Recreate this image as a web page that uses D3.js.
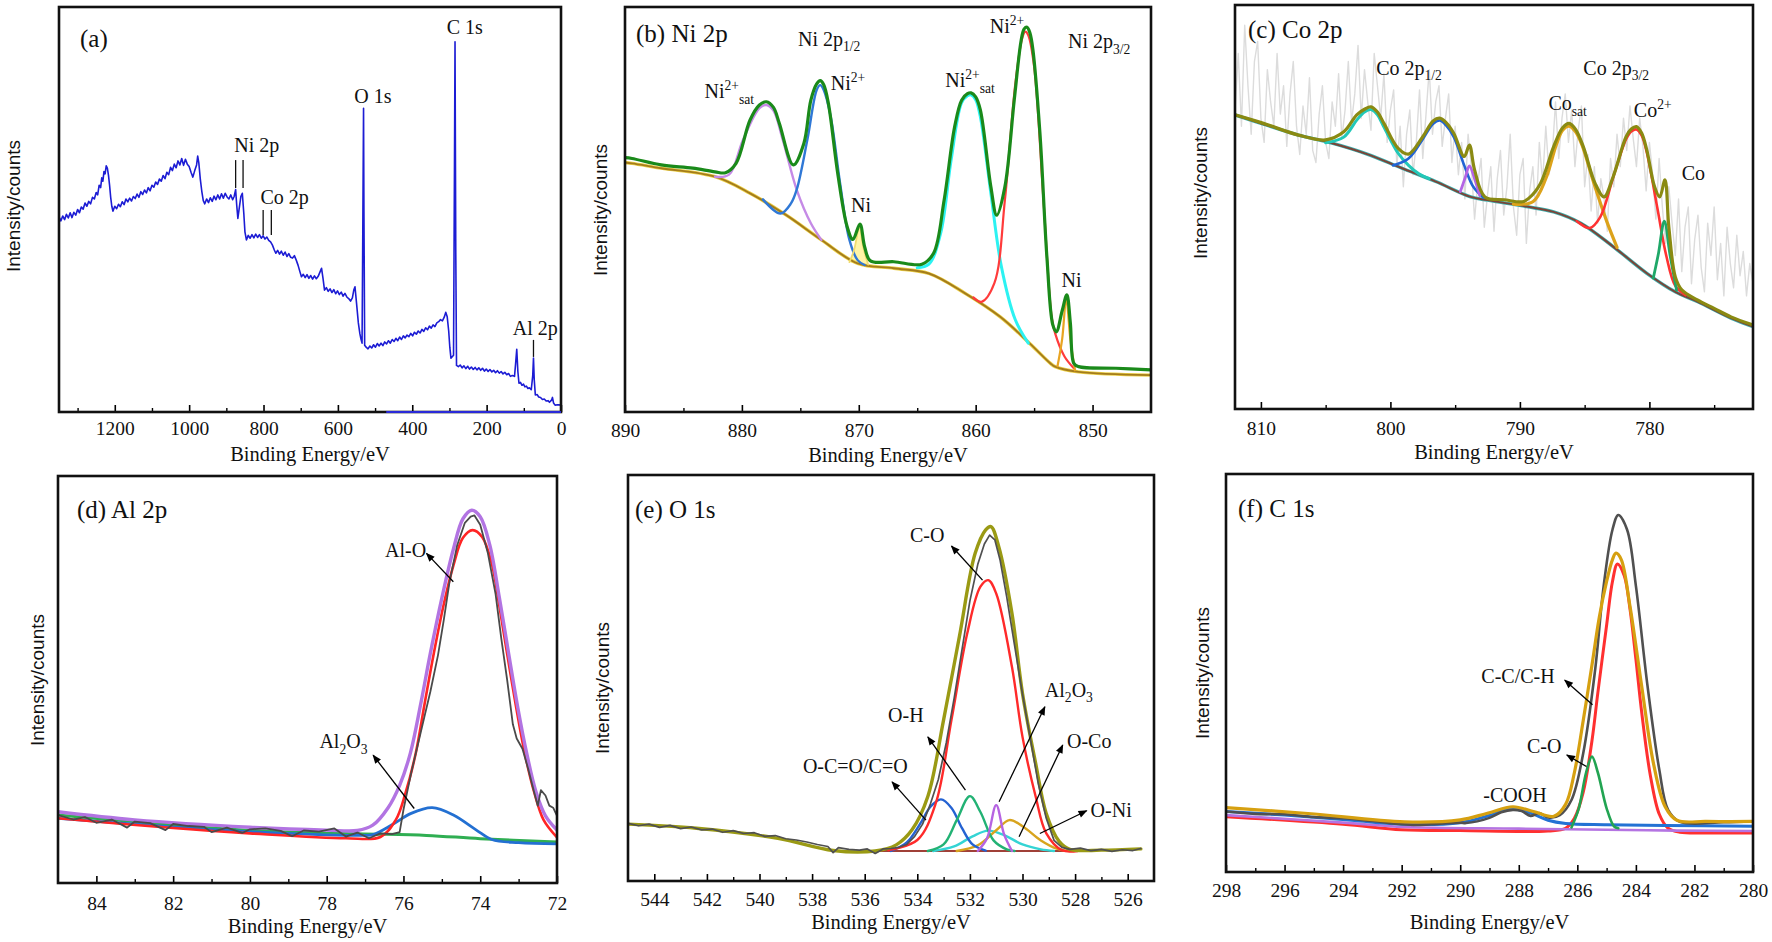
<!DOCTYPE html>
<html><head><meta charset="utf-8">
<script src="https://cdn.jsdelivr.net/npm/d3@7"></script>
<style>body{margin:0;background:#fff}svg{display:block}</style>
</head><body>
<script>
// ================= DATA (binding energy eV, intensity a.u. 0-100 of frame) =================
// (a) survey
const surveyA = [[1350,48.2],[1345,47.2],[1340,48.4],[1335,47.5],[1330,48.8],[1325,47.9],[1320,49.2],[1315,48.0],[1310,49.3],[1305,48.6],[1300,50.0],[1295,49.2],[1290,50.6],[1285,50.1],[1280,51.6],[1275,50.8],[1270,52.0],[1265,51.4],[1260,53.0],[1255,52.6],[1250,54.2],[1246,53.6],[1242,56.0],[1238,55.4],[1235,57.8],[1232,57.0],[1229,59.4],[1226,58.8],[1223,60.8],[1220,60.2],[1217,58.5],[1214,56.0],[1211,53.0],[1208,50.8],[1205,49.6],[1200,50.8],[1195,50.2],[1190,51.3],[1185,50.7],[1180,51.9],[1175,51.2],[1170,52.6],[1165,51.9],[1160,52.8],[1155,52.1],[1150,53.2],[1145,52.7],[1140,53.8],[1135,53.0],[1130,54.4],[1125,53.7],[1120,54.8],[1115,54.1],[1110,55.4],[1105,54.6],[1100,56.0],[1095,55.5],[1090,56.8],[1085,56.2],[1080,57.5],[1075,57.0],[1070,58.4],[1065,57.6],[1060,59.2],[1055,58.6],[1050,60.4],[1045,59.6],[1040,61.2],[1035,60.3],[1030,62.0],[1025,61.0],[1020,62.6],[1015,60.9],[1010,62.4],[1005,61.2],[1000,60.6],[995,59.2],[990,58.0],[985,59.6],[980,61.0],[977,63.2],[974,61.5],[970,57.5],[966,54.5],[962,52.2],[958,51.4],[953,52.6],[948,51.7],[943,52.9],[938,52.0],[933,53.3],[928,52.4],[923,53.6],[918,52.6],[913,53.9],[908,52.8],[903,54.0],[898,53.1],[893,52.6],[888,53.6],[883,52.4],[879,53.2],[875,54.9],[872,51.0],[869,47.8],[865,50.5],[861,53.2],[857,54.0],[853,49.0],[850,44.5],[846,42.5],[841,43.6],[836,42.9],[831,43.8],[826,43.0],[821,43.9],[816,43.1],[811,43.8],[806,42.9],[801,43.5],[796,42.7],[791,43.2],[786,42.4],[781,42.0],[776,41.2],[771,40.0],[767,39.2],[762,39.9],[757,39.0],[752,39.7],[747,38.7],[742,39.5],[737,38.4],[732,39.1],[727,38.2],[722,38.0],[717,38.6],[712,37.5],[707,36.2],[702,34.6],[698,33.4],[693,34.0],[688,33.2],[683,33.9],[678,33.0],[673,33.7],[668,32.8],[663,33.6],[658,32.9],[653,33.5],[648,34.6],[644,35.5],[640,33.0],[636,30.1],[631,30.7],[626,29.8],[621,30.4],[616,29.5],[611,30.2],[606,29.2],[601,29.9],[596,29.0],[591,29.6],[586,28.6],[581,29.3],[576,28.4],[571,28.0],[566,27.4],[561,28.2],[557,30.2],[554,30.9],[550,27.0],[545,22.0],[541,19.4],[538,18.0],[535,17.0],[533,45.0],[531,75.0],[530,50.0],[528,16.5],[524,16.0],[519,15.6],[514,16.3],[509,15.8],[504,16.6],[499,16.0],[494,16.9],[489,16.3],[484,17.0],[479,16.4],[474,17.3],[469,16.8],[464,17.6],[459,17.0],[454,17.9],[449,17.4],[444,18.2],[439,17.6],[434,18.5],[429,17.9],[424,18.8],[419,18.3],[414,19.0],[409,18.6],[404,19.4],[399,18.8],[394,19.7],[389,19.2],[384,20.0],[379,19.5],[374,20.4],[369,19.9],[364,20.8],[359,20.3],[354,21.2],[349,20.7],[344,21.5],[339,21.1],[334,22.0],[329,22.3],[324,22.8],[319,22.5],[314,23.4],[310,24.6],[306,23.5],[302,20.0],[299,16.0],[296,13.3],[289,14.0],[286.5,60.0],[285,91.4],[283,40.0],[281,11.5],[276,11.2],[271,11.6],[266,10.9],[261,11.4],[256,10.7],[251,11.3],[246,10.6],[241,11.1],[236,10.5],[231,11.0],[226,10.4],[221,10.9],[216,10.3],[211,10.8],[206,10.1],[201,10.6],[196,10.0],[191,10.5],[186,9.9],[181,10.3],[176,9.7],[171,10.2],[166,9.6],[161,10.0],[156,9.4],[151,9.8],[146,9.2],[141,9.5],[136,8.8],[131,9.0],[125,8.8],[122,12.0],[119,15.5],[116,10.0],[113,7.1],[109,7.3],[105,6.6],[101,6.9],[97,6.2],[93,6.4],[89,5.8],[85,6.0],[80,5.5],[76,9.0],[74,13.3],[72,8.0],[69,4.2],[64,4.3],[60,3.7],[55,3.6],[50,3.1],[45,3.2],[40,2.7],[35,2.8],[31,2.4],[25,3.0],[23,3.6],[20,2.2],[16,1.7],[8,1.8],[0,1.7]];
const ticksA = [1200,1000,800,600,400,200,0];
const minorA = [1300,1100,900,700,500,300,100];
const peakLabelsA = [["C 1s",259,93.3],["O 1s",506,76.3],["Ni 2p",818,64.2],["Co 2p",743,51.4],["Al 2p",69,19.0]];
const markersA = [[875,55.3,62.2],[855,55.3,62.2],[801,43.7,49.9],[779,43.7,49.9],[74,13.6,17.8]];

// (b) Ni 2p
const niEnv = [[890,62.8],[889.4,62.6],[886.9,61.0],[884.2,60.2],[882.3,59.3],[881.4,59.1],[880.5,61.4],[879.3,72.1],[878.5,75.8],[877.9,76.6],[877.3,75.2],[876.8,71.3],[875.6,61.0],[874.7,66.3],[874.1,77.0],[873.6,81.0],[873.3,81.8],[873.0,80.8],[872.6,76.2],[871.8,58.9],[871.0,45.8],[870.5,42.6],[869.9,46.4],[869.5,40.8],[869.0,37.3],[867.0,37.1],[864.6,36.5],[863.6,39.2],[862.7,52.3],[861.8,70.4],[861.2,77.0],[860.7,78.6],[860.4,78.8],[860.0,77.8],[859.6,74.6],[858.7,55.6],[858.2,48.6],[857.5,55.6],[856.7,77.0],[856.1,91.9],[855.85,94.6],[855.6,95.0],[855.35,93.5],[855.1,89.4],[854.5,68.8],[853.9,38.0],[853.4,21.5],[853.1,19.8],[852.6,25.0],[852.2,28.9],[851.9,22.0],[851.6,12.0],[851.2,11.2],[848,10.8],[845,10.4]];
const niBg = [[890,61.6],[889.4,61.4],[886.9,60.2],[882.3,58.1],[879.3,54.0],[876.2,48.6],[873.2,42.5],[870.1,36.7],[867.0,35.5],[864.0,34.2],[860.9,29.3],[857.9,23.5],[855.4,17.0],[853.6,12.0],[853.2,11.2],[851.2,9.9],[845,9.1]];
const niSat1 = [[882.3,58.1],[881.1,58.6],[879.9,67.2],[878.5,75.0],[877.9,75.8],[877.3,74.4],[876.5,67.2],[875.3,54.8],[874.1,46.6],[873.2,42.5]];
const ni2p12 = [[878.2,52.5],[876.7,49.0],[875.8,51.5],[875.3,55.0],[874.4,67.2],[873.6,79.5],[873.3,80.7],[873.0,79.5],[872.4,72.9],[871.6,56.5],[870.8,42.5],[870.1,37.5],[869.5,36.3]];
const niMetal1 = [[870.8,37.0],[870.4,40.0],[869.95,45.5],[869.6,40.5],[869.2,36.4]];
const niSat2 = [[865.0,35.6],[864.0,36.5],[863.0,44.1],[862.1,62.2],[861.2,76.4],[860.7,78.1],[860.4,78.3],[860.0,77.1],[859.6,72.9],[858.7,54.0],[857.8,35.9],[856.6,22.7],[855.5,17.0]];
const ni2p32 = [[860.2,28.3],[859.5,27.2],[858.4,31.8],[857.5,52.3],[856.6,81.2],[856.0,92.5],[855.75,93.9],[855.5,93.0],[855.0,85.3],[854.2,52.3],[853.5,23.5],[853.2,19.4],[852.4,13.7],[851.6,10.8]];
const niMetal2 = [[853.0,11.3],[852.6,18.0],[852.25,28.0],[851.9,18.0],[851.5,10.3]];
const ticksB = [890,880,870,860,850];
const minorB = [885,875,865,855];

// (c) Co 2p
const coRaw = [[812.00,74],[811.75,88],[811.50,70],[811.25,95],[811.00,80],[810.75,68],[810.50,86],[810.25,91],[810.00,72],[809.75,66],[809.50,84],[809.25,76],[809.00,70],[808.75,88],[808.50,73],[808.25,80],[808.00,65],[807.75,78],[807.50,86],[807.25,70],[807.00,63],[806.75,75],[806.50,68],[806.25,82],[806.00,64],[805.75,61],[805.50,73],[805.25,80],[805.00,66],[804.75,62],[804.50,76],[804.25,70],[804.00,83],[803.75,67],[803.50,74],[803.25,86],[803.00,71],[802.75,78],[802.50,90],[802.25,72],[802.00,84],[801.75,76],[801.50,69],[801.25,88],[801.00,80],[800.75,72],[800.50,83],[800.25,66],[800.00,74],[799.75,79],[799.50,60],[799.25,70],[799.00,55],[798.75,68],[798.50,74],[798.25,58],[798.00,66],[797.75,79],[797.50,62],[797.25,73],[797.00,84],[796.75,68],[796.50,76],[796.25,80],[796.00,65],[795.75,72],[795.50,78],[795.25,61],[795.00,70],[794.75,58],[794.50,66],[794.25,52],[794.00,68],[793.75,60],[793.50,47],[793.25,56],[793.00,62],[792.75,45],[792.50,53],[792.25,60],[792.00,44],[791.75,57],[791.50,64],[791.25,48],[791.00,55],[790.75,68],[790.50,50],[790.25,43],[790.00,58],[789.75,62],[789.50,41],[789.25,54],[789.00,60],[788.75,48],[788.50,66],[788.25,56],[788.00,70],[787.75,58],[787.50,63],[787.25,76],[787.00,62],[786.75,72],[786.50,78],[786.25,66],[786.00,74],[785.75,60],[785.50,69],[785.25,75],[785.00,55],[784.75,63],[784.50,49],[784.25,60],[784.00,46],[783.75,57],[783.50,52],[783.25,44],[783.00,62],[782.75,55],[782.50,68],[782.25,60],[782.00,72],[781.75,64],[781.50,75],[781.25,67],[781.00,60],[780.75,72],[780.50,65],[780.25,54],[780.00,66],[779.75,58],[779.50,47],[779.25,62],[779.00,50],[778.75,41],[778.50,55],[778.25,46],[778.00,38],[777.75,52],[777.50,34],[777.25,45],[777.00,50],[776.75,31],[776.50,42],[776.25,48],[776.00,35],[775.75,29],[775.50,46],[775.25,38],[775.00,50],[774.75,32],[774.50,41],[774.25,28],[774.00,45],[773.75,36],[773.50,30],[773.25,43],[773.00,33],[772.75,39],[772.50,28],[772.25,36],[772.00,31]];
const coEnv = [[812.0,72.8],[809.8,70.7],[807.1,67.8],[805.0,66.6],[803.6,68.6],[802.6,72.8],[802.0,74.2],[801.5,74.8],[801.0,73.5],[800.5,70.7],[799.4,64.5],[798.6,63.1],[797.5,67.4],[796.7,71.3],[796.2,72.0],[795.7,70.9],[795.1,68.2],[794.3,62.5],[793.9,65.3],[793.5,59.2],[792.7,52.5],[791.2,51.8],[789.8,51.3],[789.3,52.2],[788.4,55.9],[787.4,64.9],[786.7,69.6],[786.2,70.7],[785.7,69.2],[785.1,64.9],[784.2,55.9],[783.5,52.5],[782.8,57.5],[781.8,67.4],[781.4,69.3],[781.0,69.9],[780.6,68.3],[780.2,64.1],[779.6,55.0],[779.2,52.5],[778.8,56.7],[778.5,45.1],[778.0,32.7],[777.5,29.5],[776.3,27.0],[775.0,24.9],[773.7,22.8],[772.0,20.8]];
const coBg = [[812.0,72.8],[809.8,70.5],[807.1,67.8],[804.5,65.8],[801.8,63.1],[799.1,59.6],[796.5,56.3],[793.8,52.5],[792.5,51.7],[789.5,50.1],[787.4,48.8],[785.3,46.0],[782.8,40.2],[780.2,33.6],[778.0,29.0],[776.3,26.6],[773.7,22.5],[772.0,20.4]];
const coSat12 = [[805.0,65.9],[803.6,67.3],[802.6,71.5],[802.0,73.5],[801.5,74.1],[801.0,72.8],[800.5,69.8],[799.4,63.3],[798.6,60.3],[797.8,58.2],[797.0,57.0]];
const co2p12 = [[799.8,60.3],[798.6,62.0],[797.5,66.8],[796.7,70.6],[796.2,71.4],[795.7,70.2],[795.1,67.3],[794.3,60.3],[793.6,55.0],[792.8,52.3]];
const coMetal12 = [[794.6,53.8],[794.2,57.5],[793.9,60.2],[793.5,57.0],[793.1,52.8]];
const coSat32 = [[790.5,50.7],[789.0,51.3],[788.0,57.0],[787.2,65.3],[786.7,69.0],[786.2,70.0],[785.7,68.6],[785.2,65.3],[784.3,56.0],[783.3,46.5],[782.5,40.0]];
const co2p32 = [[785.6,46.5],[784.6,44.8],[783.8,47.5],[782.8,57.3],[781.8,66.8],[781.4,68.7],[781.0,69.2],[780.6,67.7],[780.2,63.5],[779.4,50.0],[778.7,38.0],[778.0,30.5],[777.2,28.2]];
const coMetal32 = [[779.7,32.4],[779.3,38.5],[778.85,46.5],[778.4,38.0],[777.9,29.4]];
const ticksC = [810,800,790,780];
const minorC = [805,795,785,775];

// (d) Al 2p
const alRaw = [[85.0,16.7],[84.6,15.6],[84.3,16.2],[84.0,14.8],[83.6,15.6],[83.2,13.6],[83.0,15.1],[82.6,14.7],[82.2,13.0],[82.0,14.5],[81.6,14.0],[81.2,13.8],[81.0,12.5],[80.6,13.6],[80.2,12.3],[80.0,13.2],[79.6,13.4],[79.2,12.8],[78.9,11.5],[78.6,12.9],[78.2,12.6],[77.8,13.4],[77.5,11.4],[77.2,12.4],[76.9,11.0],[76.6,12.2],[76.3,12.0],[76.1,12.5],[76.0,18.0],[75.8,27.0],[75.6,35.0],[75.45,41.0],[75.3,47.0],[75.1,56.0],[74.95,64.6],[74.8,74.0],[74.6,83.0],[74.4,88.5],[74.25,90.0],[74.15,90.3],[74.0,88.0],[73.8,81.0],[73.6,71.0],[73.45,60.0],[73.3,50.0],[73.15,39.0],[73.05,35.5],[72.9,33.0],[72.75,28.0],[72.6,22.5],[72.5,19.0],[72.42,22.8],[72.3,21.5],[72.2,19.0],[72.1,18.5],[72.0,16.5]];
const alEnv = [[85.0,17.5],[83,15.5],[80.0,13.7],[78,13.0],[77.2,12.9],[76.8,14.2],[76.4,18.5],[76.1,24.0],[75.82,31.9],[75.55,44.0],[75.30,56.4],[75.0,70.0],[74.7,82.0],[74.45,89.5],[74.22,91.6],[74.0,90.0],[73.75,83.0],[73.5,70.0],[73.26,56.4],[73.02,43.0],[72.79,31.9],[72.55,22.5],[72.3,16.5],[72.0,13.0]];
const alAlO = [[85.0,15.9],[82,13.5],[80.0,12.2],[77.5,11.0],[76.6,11.3],[76.2,15.5],[75.95,22.0],[75.68,31.9],[75.45,44.0],[75.21,56.4],[74.95,68.5],[74.7,78.0],[74.45,84.8],[74.2,86.7],[73.95,85.0],[73.7,78.5],[73.5,68.0],[73.3,56.4],[73.07,43.5],[72.84,31.9],[72.6,22.5],[72.35,15.5],[72.0,11.2]];
const alAl2O3 = [[85.0,15.9],[80.0,12.6],[77.2,11.7],[76.8,11.9],[76.3,14.3],[75.8,17.1],[75.25,18.5],[74.7,16.7],[74.1,13.0],[73.7,10.7],[73.0,9.9],[72.0,9.6]];
const alBg = [[85.0,16.7],[80.0,12.9],[77.2,12.1],[75.4,11.7],[74.0,10.9],[72.0,10.1]];
const ticksD = [84,82,80,78,76,74,72];
const minorD = [83,81,79,77,75,73];

// (e) O 1s
const oRaw = [[545.0,14.2],[544.6,13.6],[544.2,14.0],[543.8,13.2],[543.4,13.7],[543.0,12.9],[542.6,13.3],[542.2,12.6],[541.8,12.8],[541.4,12.0],[541.0,12.4],[540.6,11.7],[540.2,11.9],[539.8,11.0],[539.4,11.2],[539.0,10.4],[538.6,10.1],[538.2,9.6],[537.8,9.0],[537.4,8.5],[537.2,7.0],[537.0,8.2],[536.6,7.8],[536.2,7.6],[535.9,7.9],[535.6,6.8],[535.3,7.9],[535.0,8.0],[534.7,8.3],[534.4,9.0],[534.1,11.0],[533.8,14.0],[533.5,19.0],[533.2,25.0],[532.9,34.0],[532.6,45.0],[532.3,57.0],[532.0,69.0],[531.7,78.0],[531.45,83.0],[531.25,85.2],[531.05,84.0],[530.85,79.0],[530.6,70.0],[530.3,58.0],[530.0,46.0],[529.7,35.0],[529.4,24.0],[529.1,15.5],[528.8,10.0],[528.5,8.3],[528.2,7.8],[527.8,8.1],[527.4,7.5],[527.0,7.8],[526.6,7.3],[526.2,7.7],[525.8,7.5],[525.5,8.0]];
const oEnv = [[545.0,14.0],[542.4,13.0],[539.3,10.5],[537.2,7.5],[535.6,7.4],[534.8,8.9],[534.2,12.6],[533.6,20.8],[533.0,39.7],[532.4,60.2],[531.8,80.7],[531.4,86.5],[531.2,87.3],[530.9,82.3],[530.4,65.9],[530.0,46.2],[529.5,29.0],[529.1,16.7],[528.6,9.7],[528.2,7.8],[527.0,7.6],[525.5,7.9]];
const oCO = [[535.1,7.6],[534.0,10.1],[533.3,19.1],[532.7,39.7],[532.1,61.0],[531.6,72.5],[531.3,74.1],[531.0,70.8],[530.4,52.7],[530.0,35.5],[529.5,20.8],[529.1,11.8],[528.5,7.6],[527.9,7.4]];
const oOCO = [[535.0,7.4],[534.4,9.5],[533.9,14.0],[533.5,18.3],[533.1,20.1],[532.7,18.0],[532.3,13.0],[531.9,9.0],[531.4,7.5]];
const oOH = [[533.6,7.4],[533.0,9.0],[532.5,15.0],[532.0,20.9],[531.6,17.0],[531.1,10.0],[530.6,7.8],[530.3,7.4]];
const oAl2O3 = [[531.7,7.4],[531.35,10.5],[531.0,18.7],[530.7,11.5],[530.4,7.4]];
const oONi = [[533.4,7.4],[532.6,8.5],[531.9,11.0],[531.3,12.4],[530.7,11.3],[530.0,9.0],[529.3,7.8],[528.8,7.4]];
const oOCo = [[532.5,7.4],[531.7,8.8],[531.0,12.5],[530.5,15.0],[530.0,13.5],[529.3,10.0],[528.7,8.0],[528.2,7.4]];
const oBg = [[535.8,7.4],[527.9,7.4]];
const ticksE = [544,542,540,538,536,534,532,530,528,526];
const minorE = [543,541,539,537,535,533,531,529,527];

// (f) C 1s
const cRaw = [[298,15.2],[297,14.6],[296,14.5],[295,13.8],[294,13.5],[293,12.8],[292,12.0],[291.5,11.8],[291,12.0],[290,12.4],[289.8,12.3],[289,13.6],[288.6,15.0],[288.2,15.6],[287.9,15.3],[287.6,14.1],[287.3,14.8],[287.0,13.7],[286.6,14.3],[286.2,18.1],[285.8,29.8],[285.4,50.3],[285.1,71.9],[284.8,86.0],[284.6,89.7],[284.3,86.0],[284.0,71.9],[283.6,46.6],[283.2,25.7],[282.9,15.6],[282.5,12.6],[281,12.5],[280,12.7]];
const cEnv = [[298,16.2],[295.2,14.7],[291.9,12.6],[290.0,13.1],[289.1,14.7],[288.2,16.4],[287.5,15.2],[286.8,14.0],[286.4,17.0],[286.1,25.0],[285.8,38.0],[285.5,52.0],[285.25,64.0],[285.0,73.0],[284.8,78.5],[284.68,80.1],[284.5,78.5],[284.2,66.7],[283.8,46.6],[283.4,27.3],[283.0,16.4],[282.6,13.0],[281.6,12.7],[280,12.7]];
const cCC = [[298,13.9],[294,12.0],[292,10.6],[290,10.4],[287,10.3],[286.4,11.0],[286.1,13.5],[285.8,20.0],[285.5,33.0],[285.3,45.0],[285.0,62.0],[284.8,73.0],[284.63,77.4],[284.4,74.5],[284.2,66.0],[284.0,53.5],[283.8,40.0],[283.5,24.0],[283.2,14.5],[282.9,11.0],[282.5,10.0],[281.6,9.8],[280,9.8]];
const cCO = [[286.2,11.2],[285.95,16.0],[285.7,25.0],[285.5,29.0],[285.3,25.0],[285.0,16.0],[284.75,11.5],[284.6,11.0]];
const cCOOH = [[298,15.2],[296,14.3],[294,13.2],[292,12.0],[290,12.4],[289,14.2],[288.3,15.9],[287.6,14.8],[287,13.0],[286.4,12.2],[285,11.9],[283,11.7],[280,11.5]];
const cBg = [[298,14.3],[294,12.4],[291.9,11.3],[288,10.9],[285,10.6],[282.6,10.4],[280,10.3]];
const ticksF = [298,296,294,292,290,288,286,284,282,280];
const minorF = [297,295,293,291,289,287,285,283,281];

// ================= DRAWING =================
const SERIF = '"Liberation Serif","Times New Roman",serif';
const SANS = '"Liberation Sans",Arial,sans-serif';
const svg = d3.select('body').append('svg').attr('width',1772).attr('height',942);
svg.append('rect').attr('width',1772).attr('height',942).attr('fill','#fff');
const defs = svg.append('defs');
defs.append('marker').attr('id','arr').attr('viewBox','0 0 10 10').attr('refX',9).attr('refY',5)
  .attr('markerWidth',10).attr('markerHeight',9).attr('markerUnits','userSpaceOnUse').attr('orient','auto')
  .append('path').attr('d','M0,1 L10,5 L0,9 Z').attr('fill','#000');

const smooth = d3.curveCatmullRom.alpha(0.5);
let pid = 0;
function makePanel(box, xDom){
  const id = 'c'+(pid++);
  const x = d3.scaleLinear().domain(xDom).range([box.l, box.r]);
  const y = d3.scaleLinear().domain([0,100]).range([box.b, box.t]);
  defs.append('clipPath').attr('id',id).append('rect').attr('x',box.l).attr('y',box.t).attr('width',box.r-box.l).attr('height',box.b-box.t);
  const g = svg.append('g');
  const plot = g.append('g').attr('clip-path',`url(#${id})`);
  return {x,y,g,plot,box};
}
function drawLine(p, data, color, w, curve, opacity){
  return p.plot.append('path').datum(data).attr('fill','none').attr('stroke',color).attr('stroke-width',w)
    .attr('stroke-linejoin','round').attr('stroke-linecap','round').attr('opacity',opacity==null?1:opacity)
    .attr('d', d3.line().x(d=>p.x(d[0])).y(d=>p.y(d[1])).curve(curve||smooth));
}
function drawFill(p, data, color){
  return p.plot.append('path').datum(data).attr('fill',color).attr('stroke','none')
    .attr('d', d3.line().x(d=>p.x(d[0])).y(d=>p.y(d[1])).curve(smooth));
}
function frame(p, majors, minors, pad, titleDy, ylab){
  const b = p.box;
  const ax = p.g.append('g').attr('transform',`translate(0,${b.b})`)
    .call(d3.axisBottom(p.x).tickValues(majors).tickSize(-7).tickPadding(pad).tickFormat(d3.format('d')));
  ax.select('.domain').remove();
  ax.selectAll('text').attr('font-family',SERIF).attr('font-size',19.5).attr('fill','#111');
  ax.selectAll('line').attr('stroke','#000').attr('stroke-width',1.6);
  const mi = p.g.append('g').attr('transform',`translate(0,${b.b})`)
    .call(d3.axisBottom(p.x).tickValues(minors).tickSize(-4).tickFormat(''));
  mi.select('.domain').remove();
  mi.selectAll('line').attr('stroke','#000').attr('stroke-width',1.4);
  p.g.append('rect').attr('x',b.l).attr('y',b.t).attr('width',b.r-b.l).attr('height',b.b-b.t)
    .attr('fill','none').attr('stroke','#111').attr('stroke-width',2.6);
  p.g.append('text').attr('x',(b.l+b.r)/2).attr('y',b.b+titleDy).attr('text-anchor','middle')
    .attr('font-family',SERIF).attr('font-size',20.5).attr('fill','#111').text('Binding Energy/eV');
  p.g.append('text').attr('transform',`translate(${ylab[0]},${ylab[1]}) rotate(-90)`).attr('text-anchor','middle')
    .attr('dy','0.35em').attr('font-family',SANS).attr('font-size',19).attr('fill','#111').text('Intensity/counts');
}
function ptitle(p, dx, dy, txt){
  p.g.append('text').attr('x',p.box.l+dx).attr('y',p.box.t+dy).attr('font-family',SERIF).attr('font-size',25).attr('fill','#111').text(txt);
}
function rich(p, xv, yv, segs, anchor, size){
  size = size||20;
  const t = p.g.append('text').attr('x',p.x(xv)).attr('y',p.y(yv)).attr('font-family',SERIF)
    .attr('font-size',size).attr('text-anchor',anchor||'start').attr('fill','#111');
  let cur = 0;
  segs.forEach(([s,k])=>{
    const target = k===1 ? -0.42*size : (k===-1 ? 0.28*size : 0);
    t.append('tspan').attr('dy', target-cur).attr('font-size', k ? size*0.68 : size).text(s);
    cur = target;
  });
}
function arrow(p, x1, v1, x2, v2){
  p.g.append('line').attr('x1',p.x(x1)).attr('y1',p.y(v1)).attr('x2',p.x(x2)).attr('y2',p.y(v2))
    .attr('stroke','#000').attr('stroke-width',1.3).attr('marker-end','url(#arr)');
}

// ----- (a) -----
const pa = makePanel({l:59,r:561,t:7,b:412},[1350,0]);
drawLine(pa, surveyA, '#1c1cd4', 1.6, d3.curveLinear);
frame(pa, ticksA, minorA, 9, 49, [13,206]);
pa.g.append('line').attr('x1',pa.x(470)).attr('x2',pa.x(0)).attr('y1',pa.box.b).attr('y2',pa.box.b).attr('stroke','#2a2ad8').attr('stroke-width',2.2);
ptitle(pa, 21, 40, '(a)');
peakLabelsA.forEach(([t,e,v])=>rich(pa,e,v,[[t,0]],'middle',20));
markersA.forEach(([e,v1,v2])=>pa.g.append('line').attr('x1',pa.x(e)).attr('x2',pa.x(e)).attr('y1',pa.y(v1)).attr('y2',pa.y(v2)).attr('stroke','#111').attr('stroke-width',1.3));

// ----- (b) -----
const pb = makePanel({l:625,r:1151,t:7,b:412},[890,845]);
drawFill(pb, niMetal1, '#fff4a6');
drawLine(pb, niBg, '#ecd048', 3.4);
drawLine(pb, niBg, '#a47c1c', 1.9);
drawLine(pb, niSat1, '#c58ae6', 2.4);
drawLine(pb, ni2p12, '#2f78d6', 2.4);
drawLine(pb, niMetal1, '#f0dc70', 1.8);
drawLine(pb, niSat2, '#2cf2f2', 3.0);
drawLine(pb, ni2p32, '#ff3b3b', 2.2);
drawLine(pb, niMetal2, '#e8a422', 2.2);
drawLine(pb, niEnv, '#1a8a1a', 3.2);
frame(pb, ticksB, minorB, 11, 50, [600,210]);
ptitle(pb, 11, 35, '(b) Ni 2p');
rich(pb, 883.2, 77.5, [['Ni',0],['2+',1],['sat',-1]]);
rich(pb, 875.2, 90.4, [['Ni 2p',0],['1/2',-1]]);
rich(pb, 872.4, 79.5, [['Ni',0],['2+',1]]);
rich(pb, 869.8, 49.4, [['Ni',0]], 'middle');
rich(pb, 862.6, 80.2, [['Ni',0],['2+',1],['sat',-1]]);
rich(pb, 858.8, 93.6, [['Ni',0],['2+',1]]);
rich(pb, 852.1, 89.9, [['Ni 2p',0],['3/2',-1]]);
rich(pb, 851.8, 30.9, [['Ni',0]], 'middle');

// ----- (c) -----
const pc = makePanel({l:1235,r:1753,t:5,b:409},[812,772]);
drawLine(pc, coRaw, '#dcdcdc', 1.4, d3.curveLinear);
drawLine(pc, coBg, '#3fb2b0', 3.4);
drawLine(pc, coBg, '#7a4438', 2.0);
drawLine(pc, coSat12, '#22c8b8', 3.0);
drawLine(pc, co2p12, '#2264d4', 2.6);
drawLine(pc, coMetal12, '#b464e4', 2.8);
drawLine(pc, coSat32, '#dca21a', 3.2);
drawLine(pc, co2p32, '#ff3232', 2.6);
drawLine(pc, coMetal32, '#1fa868', 2.8);
drawLine(pc, coEnv, '#8a8a12', 3.2);
frame(pc, ticksC, minorC, 12.5, 50, [1200,193]);
ptitle(pc, 13, 33, '(c) Co 2p');
rich(pc, 801.1, 82.7, [['Co 2p',0],['1/2',-1]]);
rich(pc, 785.1, 82.7, [['Co 2p',0],['3/2',-1]]);
rich(pc, 787.8, 74.0, [['Co',0],['sat',-1]]);
rich(pc, 781.2, 72.3, [['Co',0],['2+',1]]);
rich(pc, 777.5, 56.7, [['Co',0]]);

// ----- (d) -----
const pd = makePanel({l:58,r:557,t:476,b:883},[85,72]);
drawLine(pd, alBg, '#2fae52', 3.0);
drawLine(pd, alAl2O3, '#2370d2', 2.8);
drawLine(pd, alAlO, '#ff2424', 2.6);
drawLine(pd, alEnv, '#b274e2', 3.4);
drawLine(pd, alRaw, '#4a4a4a', 1.8, d3.curveLinear);
frame(pd, ticksD, minorD, 13, 50, [37,680]);
ptitle(pd, 19, 42, '(d) Al 2p');
rich(pd, 76.48, 80.2, [['Al-O',0]]);
arrow(pd, 74.70, 74.0, 75.40, 81.0);
rich(pd, 78.19, 33.1, [['Al',0],['2',-1],['O',0],['3',-1]]);
arrow(pd, 75.72, 18.3, 76.79, 31.4);

// ----- (e) -----
const pe = makePanel({l:628,r:1154,t:475,b:881},[545,525]);
drawLine(pe, oBg, '#a04038', 2.0, d3.curveLinear);
drawLine(pe, oONi, '#34d4d4', 2.4);
drawLine(pe, oOCo, '#d8a41e', 2.4);
drawLine(pe, oOCO, '#2462d2', 2.4);
drawLine(pe, oOH, '#22b274', 2.4);
drawLine(pe, oAl2O3, '#b664e2', 2.4);
drawLine(pe, oCO, '#ff2a2a', 2.4);
drawLine(pe, oEnv, '#9a9a14', 3.4);
drawLine(pe, oRaw, '#505050', 1.7, d3.curveLinear);
frame(pe, ticksE, minorE, 11, 48, [602,688]);
ptitle(pe, 7, 43, '(e) O 1s');
rich(pe, 534.28, 83.6, [['C-O',0]]);
arrow(pe, 531.52, 74.1, 532.70, 82.5);
rich(pe, 535.11, 39.2, [['O-H',0]]);
arrow(pe, 532.17, 22.4, 533.6, 35.5);
rich(pe, 538.35, 26.5, [['O-C=O/C=O',0]]);
arrow(pe, 533.67, 15.0, 534.96, 24.4);
rich(pe, 529.15, 45.4, [['Al',0],['2',-1],['O',0],['3',-1]]);
arrow(pe, 530.89, 19.5, 529.15, 42.9);
rich(pe, 528.31, 32.7, [['O-Co',0]]);
arrow(pe, 530.13, 10.9, 528.47, 33.5);
rich(pe, 527.41, 15.8, [['O-Ni',0]]);
arrow(pe, 529.34, 11.7, 527.56, 17.3);

// ----- (f) -----
const pf = makePanel({l:1226,r:1753,t:474,b:872},[298,280]);
drawLine(pf, cCC, '#ff3030', 3.0);
drawLine(pf, cBg, '#b474e2', 2.6);
drawLine(pf, cCOOH, '#2372d4', 3.0);
drawLine(pf, cCO, '#22a452', 2.6);
drawLine(pf, cRaw, '#505050', 2.6, smooth);
drawLine(pf, cEnv, '#d6a010', 3.2);
frame(pf, ticksF, minorF, 11, 57, [1202,673]);
ptitle(pf, 12, 43, '(f) C 1s');
rich(pf, 289.28, 47.4, [['C-C/C-H',0]]);
arrow(pf, 285.48, 42.0, 286.43, 48.2);
rich(pf, 287.72, 29.8, [['C-O',0]]);
arrow(pf, 285.69, 26.5, 286.36, 29.4);
rich(pf, 289.21, 17.7, [['-COOH',0]]);
</script>
</body></html>
